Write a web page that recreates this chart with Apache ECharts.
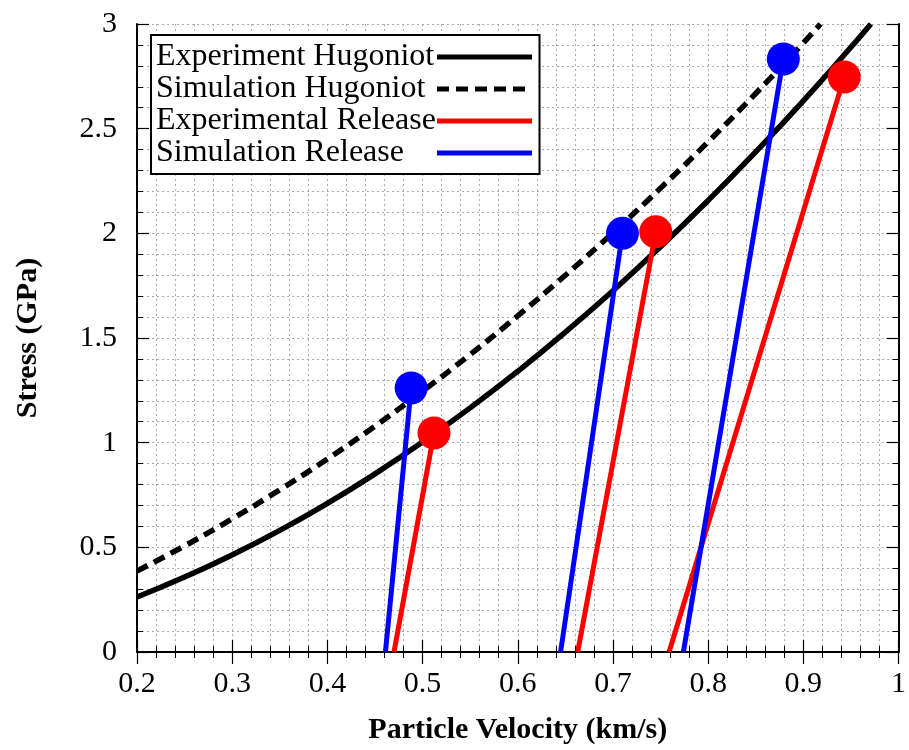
<!DOCTYPE html>
<html>
<head>
<meta charset="utf-8">
<script src="https://cdn.jsdelivr.net/npm/echarts@6/dist/echarts.min.js"></script>
<style>
  html, body { margin: 0; padding: 0; background: #fff; }
  #chart { width: 909px; height: 750px; }
</style>
</head>
<body>
<div id="chart"></div>
<script>
// Hugoniot curves (particle velocity km/s, stress GPa)
const expHugVel = [0.2, 0.25, 0.3, 0.35, 0.4, 0.45, 0.5, 0.55, 0.6, 0.65, 0.7, 0.75, 0.8, 0.85, 0.9, 0.95, 0.971]
const expHugStress = [0.263, 0.358, 0.464, 0.581, 0.71, 0.851, 1.003, 1.166, 1.341, 1.528, 1.726, 1.936, 2.157, 2.389, 2.633, 2.889, 3.0]
const simHugVel = [0.2, 0.25, 0.3, 0.35, 0.4, 0.45, 0.5, 0.55, 0.6, 0.65, 0.7, 0.75, 0.8, 0.85, 0.9, 0.918]
const simHugStress = [0.387, 0.507, 0.636, 0.775, 0.922, 1.079, 1.246, 1.421, 1.606, 1.8, 2.003, 2.216, 2.437, 2.668, 2.909, 3.0]

// release paths: foot velocity at zero stress -> peak state
const expRelFoot = [0.47, 0.663, 0.759]
const expRelPeakVel = [0.512, 0.745, 0.943]
const expRelPeakStress = [1.046, 2.007, 2.747]
const simRelFoot = [0.461, 0.645, 0.774]
const simRelPeakVel = [0.488, 0.71, 0.879]
const simRelPeakStress = [1.261, 2.0, 2.833]

const xTicks = { min: 0.2, max: 1, interval: 0.1 }
const yTicks = { min: 0, max: 3, interval: 0.5 }

const font = 'Liberation Serif'
const gridDots = { color: '#aaa', type: [2, 3], width: 1 }

function zip(xs, ys) {
  return xs.map((x, i) => [x, ys[i]])
}

function releaseSeries(name, color, foot, pv, ps) {
  return foot.map((f, i) => ({
    name: name,
    type: 'line',
    symbol: 'none',
    lineStyle: { color: color, width: 5 },
    itemStyle: { color: color },
    data: [
      [f, 0],
      { value: [pv[i], ps[i]], symbol: 'circle', symbolSize: 33 }
    ],
    z: 3
  }))
}

function axisBase(pos, range, showLabel) {
  return {
    type: 'value',
    position: pos,
    min: range.min,
    max: range.max,
    interval: range.interval,
    axisLine: { show: true, lineStyle: { color: '#000', width: 2 } },
    axisTick: { show: true, inside: true, length: 12, lineStyle: { color: '#000', width: 1.2 } },
    minorTick: { show: true, splitNumber: 5, length: 6, lineStyle: { color: '#000', width: 1 } },
    axisLabel: { show: showLabel, color: '#000', fontFamily: font, fontSize: 30 },
    splitLine: { show: false },
    minorSplitLine: { show: false }
  }
}

const chart = echarts.init(document.getElementById('chart'))

const xMain = Object.assign(axisBase('bottom', xTicks, true), {
  name: 'Particle Velocity (km/s)',
  nameLocation: 'middle',
  nameGap: 63,
  nameTextStyle: { color: '#000', fontFamily: font, fontSize: 30, fontWeight: 'bold' },
  splitLine: { show: true, lineStyle: gridDots },
  minorSplitLine: { show: true, lineStyle: gridDots }
})
xMain.axisLabel.margin = 17

const yMain = Object.assign(axisBase('left', yTicks, true), {
  name: 'Stress (GPa)',
  nameLocation: 'middle',
  nameGap: 94,
  nameTextStyle: { color: '#000', fontFamily: font, fontSize: 30, fontWeight: 'bold' },
  splitLine: { show: true, lineStyle: gridDots },
  minorSplitLine: { show: true, lineStyle: gridDots }
})
yMain.axisLabel.margin = 20

chart.setOption({
  animation: false,
  backgroundColor: '#fff',
  grid: { left: 137, right: 6, top: 24, bottom: 98 },
  xAxis: [xMain, axisBase('top', xTicks, false)],
  yAxis: [yMain, axisBase('right', yTicks, false)],
  legend: {
    orient: 'vertical',
    left: 151,
    top: 35,
    align: 'right',
    padding: [6, 5, 5, 5],
    itemGap: 0,
    itemWidth: 95,
    itemHeight: 14,
    backgroundColor: '#fff',
    borderColor: '#000',
    borderWidth: 2,
    borderRadius: 0,
    itemStyle: { color: 'transparent', borderWidth: 0, opacity: 0 },
    lineStyle: { width: 5 },
    formatter: name => '{t|' + name + '}',
    textStyle: {
      color: '#000',
      fontFamily: font,
      fontSize: 32,
      rich: { t: { width: 276, align: 'left', fontFamily: font, fontSize: 32, lineHeight: 29, color: '#000' } }
    },
    data: ['Experiment Hugoniot', 'Simulation Hugoniot', 'Experimental Release', 'Simulation Release']
  },
  series: [
    {
      name: 'Experiment Hugoniot',
      type: 'line',
      smooth: true,
      symbol: 'none',
      lineStyle: { color: '#000', width: 5.5 },
      itemStyle: { color: '#000' },
      data: zip(expHugVel, expHugStress),
      z: 2
    },
    {
      name: 'Simulation Hugoniot',
      type: 'line',
      smooth: true,
      symbol: 'none',
      lineStyle: { color: '#000', width: 5.5, type: [12, 7] },
      itemStyle: { color: '#000' },
      data: zip(simHugVel, simHugStress),
      z: 2
    },
    ...releaseSeries('Experimental Release', '#ff0000', expRelFoot, expRelPeakVel, expRelPeakStress),
    ...releaseSeries('Simulation Release', '#0000ff', simRelFoot, simRelPeakVel, simRelPeakStress)
  ]
})
</script>
</body>
</html>
